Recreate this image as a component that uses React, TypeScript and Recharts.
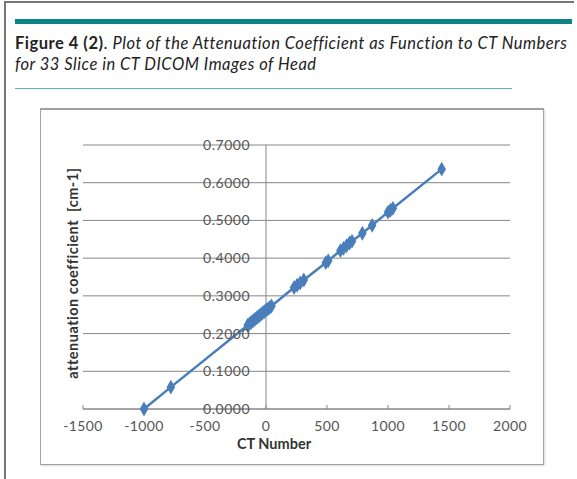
import React from 'react';
import {
  ScatterChart,
  Scatter,
  XAxis,
  YAxis,
  ZAxis,
  CartesianGrid,
  ReferenceLine,
  ReferenceDot,
} from 'recharts';

// values (33 slices)
const ctNumbers = [
  -1000, -780, -150, -135, -120, -105, -90, -75, -60, -45, -30, -15, 0, 15, 30, 45,
  230, 255, 280, 310, 490, 510, 610, 635, 660, 685, 705, 790, 870, 1000, 1020, 1040, 1440,
];
const attenuation = [
  0.0, 0.058, 0.222, 0.226, 0.23, 0.234, 0.238, 0.242, 0.246, 0.25, 0.254, 0.258, 0.262,
  0.265, 0.269, 0.273, 0.322, 0.328, 0.334, 0.342, 0.388, 0.393, 0.42, 0.426, 0.433, 0.44,
  0.445, 0.466, 0.487, 0.522, 0.527, 0.532, 0.636,
];
const xTicks = [-1500, -1000, -500, 0, 500, 1000, 1500, 2000];
const yTicks = [0, 0.1, 0.2, 0.3, 0.4, 0.5, 0.6, 0.7];

const points = ctNumbers.map((ct, i) => ({ ct, mu: attenuation[i] }));

const TEAL = '#0e8489';
const LINE = '#4a7ebb';
const GRID = '#868686';
const TICK_TEXT = '#555';
const FONT = 'Lato, "Open Sans", sans-serif';

export default function App() {
  return (
    <div
      style={{
        position: 'absolute',
        left: 0,
        top: 0,
        width: 577,
        height: 479,
        background: '#fff',
        overflow: 'hidden',
        fontFamily: FONT,
      }}
    >
      {/* page frame */}
      <div style={{ position: 'absolute', left: 4, top: 1, width: 570, height: 2, background: '#777' }} />
      <div style={{ position: 'absolute', left: 4, top: 1, width: 2, height: 478, background: '#777' }} />
      <div style={{ position: 'absolute', left: 15, top: 19, width: 557, height: 5, background: TEAL }} />

      <div
        style={{
          position: 'absolute',
          left: 15,
          top: 33,
          width: 560,
          fontSize: 16.5,
          letterSpacing: 0.5,
          lineHeight: '21px',
          color: '#222',
          whiteSpace: 'nowrap',
        }}
      >
        <div>
          <span style={{ fontWeight: 700 }}>Figure 4 (2)</span>
          <span>. </span>
          <span style={{ fontStyle: 'italic' }}>
            Plot of the Attenuation Coefficient as Function to CT Numbers
          </span>
        </div>
        <div style={{ fontStyle: 'italic' }}>for 33 Slice in CT DICOM Images of Head</div>
      </div>

      <div style={{ position: 'absolute', left: 15, top: 88, width: 497, height: 1, background: '#5fb3b8' }} />

      {/* chart box */}
      <div
        style={{
          position: 'absolute',
          left: 40,
          top: 108,
          width: 502,
          height: 354,
          border: '1px solid #a0a0a0',
          borderTopWidth: 2,
          boxShadow: '1px 1px 2px rgba(0,0,0,0.15)',
          background: '#fff',
        }}
      >
        <ScatterChart
          width={502}
          height={352}
          margin={{ top: 35, right: 33, left: 42, bottom: 23 }}
        >
          <CartesianGrid
            horizontal
            vertical={false}
            stroke={GRID}
            strokeWidth={1}
            horizontalValues={yTicks}
          />
          <XAxis
            type="number"
            dataKey="ct"
            domain={[-1500, 2000]}
            ticks={xTicks}
            interval={0}
            height={30}
            stroke={GRID}
            tickSize={-4}
            tickMargin={16}
            tick={{ fill: TICK_TEXT, fontSize: 14, fontFamily: FONT, letterSpacing: 0.4 }}
          />
          <YAxis type="number" dataKey="mu" domain={[0, 0.7]} ticks={yTicks} hide />
          <ZAxis range={[70, 70]} />
          <ReferenceLine x={0} stroke={GRID} strokeWidth={1} />
          {yTicks.map((v) => (
            <ReferenceDot
              key={v}
              x={0}
              y={v}
              r={0}
              stroke="none"
              fill="none"
              label={{
                value: v.toFixed(4),
                position: 'left',
                offset: 16,
                fill: TICK_TEXT,
                fontSize: 14,
                fontFamily: FONT,
                letterSpacing: 0.5,
              }}
            />
          ))}
          <Scatter
            data={points}
            fill={LINE}
            shape="diamond"
            line={{ stroke: LINE, strokeWidth: 2.5 }}
            lineType="joint"
            isAnimationActive={false}
          />
        </ScatterChart>

        <div
          style={{
            position: 'absolute',
            left: 233,
            top: 325,
            width: 0,
            fontSize: 14.5,
            fontWeight: 700,
            color: '#333',
            whiteSpace: 'nowrap',
            display: 'flex',
            justifyContent: 'center',
          }}
        >
          CT Number
        </div>
        <div
          style={{
            position: 'absolute',
            left: 31,
            top: 163,
            width: 0,
            height: 0,
            display: 'flex',
            justifyContent: 'center',
            alignItems: 'center',
            transform: 'rotate(-90deg)',
            fontSize: 14.5,
            letterSpacing: 0.5,
            fontWeight: 700,
            color: '#333',
            whiteSpace: 'nowrap',
          }}
        >
          <span style={{ whiteSpace: 'pre' }}>attenuation coefficient  [cm-1]</span>
        </div>
      </div>
    </div>
  );
}
